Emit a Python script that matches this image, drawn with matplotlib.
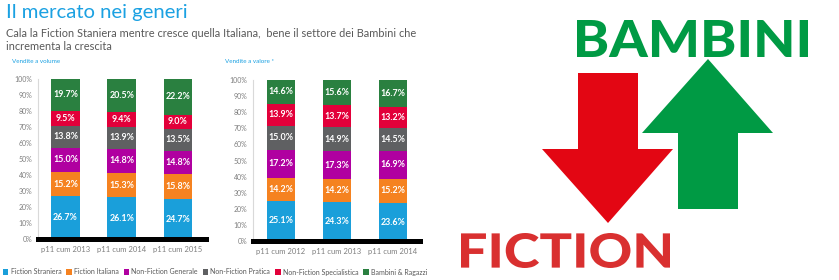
import matplotlib.pyplot as plt
import numpy as np
from matplotlib.patches import Polygon, PathPatch
from matplotlib.textpath import TextPath
from matplotlib.font_manager import FontProperties
from matplotlib.transforms import Affine2D

# data
genres = ["Fiction Straniera", "Fiction Italiana", "Non-Fiction Generale",
          "Non-Fiction Pratica", "Non-Fiction Specialistica", "Bambini & Ragazzi"]
colors = ["#1a9fda", "#f58220", "#b000a0", "#5f6062", "#e2003a", "#2a8040"]

vol_periods = ["p11 cum 2013", "p11 cum 2014", "p11 cum 2015"]
vol_values = [
    [26.7, 26.1, 24.7],
    [15.2, 15.3, 15.8],
    [15.0, 14.8, 14.8],
    [13.8, 13.9, 13.5],
    [9.5, 9.4, 9.0],
    [19.7, 20.5, 22.2],
]

val_periods = ["p11 cum 2012", "p11 cum 2013", "p11 cum 2014"]
val_values = [
    [25.1, 24.3, 23.6],
    [14.2, 14.2, 15.2],
    [17.2, 17.3, 16.9],
    [15.0, 14.9, 14.5],
    [13.9, 13.7, 13.2],
    [14.6, 15.6, 16.7],
]

W, H = 839, 280
plt.rcParams['font.family'] = ['Lato', 'DejaVu Sans']
fig = plt.figure(figsize=(W / 100, H / 100), dpi=100)


def px(x0, y_top, x1, y_bot):
    # figure-fraction rect from pixel box
    return [x0 / W, 1 - y_bot / H, (x1 - x0) / W, (y_bot - y_top) / H]


def stacked(ax, periods, values, xlim, width):
    x = np.arange(len(periods))
    bottom = np.zeros(len(periods))
    for name, col, vals in zip(genres, colors, values):
        vals = np.array(vals)
        ax.bar(x, vals, width, bottom=bottom, color=col, label=name, zorder=2)
        for xi, b, v in zip(x, bottom, vals):
            ax.text(xi, b + v / 2, f"{v:.1f}%", ha='center', va='center',
                    color='white', fontsize=6.4, fontweight='bold', zorder=3)
        bottom += vals
    ax.set_xlim(*xlim)
    ax.set_ylim(0, 100)
    ax.set_yticks(np.arange(0, 101, 10))
    ax.set_yticklabels([f"{t}%" for t in range(0, 101, 10)])
    ax.set_xticks(x)
    ax.set_xticklabels(periods)
    ax.tick_params(length=0, labelsize=5, colors='#7f7f7f', pad=4)
    ax.tick_params(axis='x', labelsize=5.5, pad=5)
    for s in ['top', 'right', 'bottom']:
        ax.spines[s].set_visible(False)
    ax.spines['left'].set_color('#d9d9d9')
    ax.axhline(0, color='black', lw=3.6, zorder=4, clip_on=False)


ax1 = fig.add_axes(px(38, 79, 206, 239))
stacked(ax1, vol_periods, vol_values, (-0.49, 2.5), 0.51)
ax2 = fig.add_axes(px(253, 80, 420, 241))
stacked(ax2, val_periods, val_values, (-0.5, 2.49), 0.5)

# header texts
fig.text(6 / W, 1 - 18 / H, "Il mercato nei generi", color='#1ba1e2',
         fontsize=14.6, va='baseline')
fig.text(6 / W, 1 - 37 / H,
         "Cala la Fiction Staniera mentre cresce quella Italiana,  bene il settore dei Bambini che",
         color='#595959', fontsize=7.9, va='baseline')
fig.text(6 / W, 1 - 50 / H, "incrementa la crescita", color='#595959',
         fontsize=7.9, va='baseline')
fig.text(12 / W, 1 - 63 / H, "Vendite a volume", color='#1ba1e2',
         fontsize=4.5, va='baseline')
fig.text(225 / W, 1 - 63 / H, "Vendite a valore *", color='#1ba1e2',
         fontsize=4.5, va='baseline')

handles, labels = ax1.get_legend_handles_labels()
fig.legend(handles, labels, loc='center', bbox_to_anchor=(215 / W, 1 - 272 / H),
           ncol=6, frameon=False, fontsize=5.0, handlelength=0.8,
           handleheight=0.8, handletextpad=0.3, columnspacing=0.7,
           borderaxespad=0, borderpad=0, labelcolor='#595959')

# right-hand graphic
ov = fig.add_axes([0, 0, 1, 1], zorder=5)
ov.set_xlim(0, W)
ov.set_ylim(H, 0)
ov.axis('off')
ov.patch.set_alpha(0)

green_arrow = [(678, 209), (678, 133), (642, 133), (708, 59), (773, 133),
               (738, 133), (738, 209)]
red_arrow = [(578, 73), (638, 73), (638, 149), (673, 149), (608, 223),
             (542, 149), (578, 149)]
ov.add_patch(Polygon(green_arrow, closed=True, color='#009a44', lw=0))
ov.add_patch(Polygon(red_arrow, closed=True, color='#e30613', lw=0))


def fit_text(s, box, color):
    fp = FontProperties(family=['Lato', 'DejaVu Sans'], weight='black')
    tp = TextPath((0, 0), s, size=100, prop=fp)
    ext = tp.get_extents()
    x0, y0, x1, y1 = box
    sx = (x1 - x0) / ext.width
    sy = (y1 - y0) / ext.height
    tr = (Affine2D().translate(-ext.x0, -ext.y0).scale(sx, -sy)
          .translate(x0, y1))
    ov.add_patch(PathPatch(tr.transform_path(tp), color=color, lw=0))


fit_text("BAMBINI", (577, 20, 808, 57), '#009a44')
fit_text("FICTION", (461, 233, 670, 268), '#d93030')

fig.savefig("out.png", dpi=100)
